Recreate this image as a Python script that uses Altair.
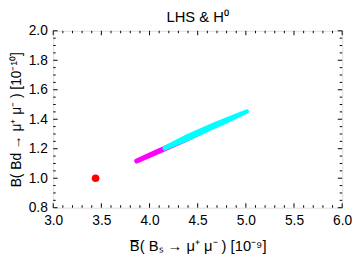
import altair as alt
import pandas as pd

# Data
red_x = [3.44]
red_y = [1.00]

magenta_x = [3.867, 4.082, 4.337, 4.541]
magenta_y = [1.117, 1.180, 1.253, 1.313]
magenta_w = [5.0, 5.5, 5.5, 5.0]

cyan_x = [4.160, 4.388, 4.694, 5.010]
cyan_y = [1.204, 1.273, 1.363, 1.453]
cyan_w = [5.0, 7.0, 6.5, 4.5]

x_major = [3.0, 3.5, 4.0, 4.5, 5.0, 5.5, 6.0]
y_major = [0.8, 1.0, 1.2, 1.4, 1.6, 1.8, 2.0]
x_minor = [round(3.0 + 0.1 * i, 2) for i in range(31) if i % 5 != 0]
y_minor = [round(0.8 + 0.05 * i, 3) for i in range(25) if i % 4 != 0]

TITLE = "LHS & H⁰"

W, H = 294, 180
FONT = "Liberation Sans"

xscale = alt.Scale(domain=[3.0, 6.0], nice=False, zero=False)
yscale = alt.Scale(domain=[0.8, 2.0], nice=False, zero=False)

xaxis = alt.Axis(values=x_major, format=".1f", ticks=False, domain=False, grid=False,
                 labelFont=FONT, labelFontSize=14, labelColor="black", labelPadding=6,
                 title="B̅( Bₛ → μ⁺ μ⁻ )  [10⁻⁹]", titleFont=FONT, titleFontSize=15,
                 titleFontWeight="normal", titleColor="black", titlePadding=12,
                 labelFlush=False, labelOverlap=False)
yaxis = alt.Axis(values=y_major, format=".1f", ticks=False, domain=False, grid=False,
                 labelFont=FONT, labelFontSize=14, labelColor="black", labelPadding=6,
                 title="B( Bd → μ⁺ μ⁻ )  [10⁻¹⁰]", titleFont=FONT, titleFontSize=14,
                 titleFontWeight="normal", titleColor="black", titlePadding=5,
                 labelFlush=False, labelOverlap=False)

X = alt.X("x:Q", scale=xscale, axis=xaxis)
Y = alt.Y("y:Q", scale=yscale, axis=yaxis)

mag = pd.DataFrame({"x": magenta_x, "y": magenta_y, "w": magenta_w, "o": range(4)})
cya = pd.DataFrame({"x": cyan_x, "y": cyan_y, "w": cyan_w, "o": range(4)})
red = pd.DataFrame({"x": red_x, "y": red_y})

mag_layer = alt.Chart(mag).mark_trail(color="#FF00FF").encode(
    x=X, y=Y, order="o:Q", size=alt.Size("w:Q", scale=None, legend=None))
cya_layer = alt.Chart(cya).mark_trail(color="#00FFFF").encode(
    x=X, y=Y, order="o:Q", size=alt.Size("w:Q", scale=None, legend=None))
red_layer = alt.Chart(red).mark_circle(color="#FF0000", opacity=1, size=60).encode(x=X, y=Y)

title_layer = alt.Chart(pd.DataFrame({"t": [TITLE]})).mark_text(
    font=FONT, fontSize=15, color="black", align="center", baseline="alphabetic"
).encode(x=alt.value(W / 2), y=alt.value(-9), text="t:N")

def xticks(vals, length):
    df = pd.DataFrame({"x": vals})
    bot = alt.Chart(df).mark_rule(color="black", strokeWidth=1).encode(
        x=X, y=alt.value(H), y2=alt.value(H - length))
    top = alt.Chart(df).mark_rule(color="black", strokeWidth=1).encode(
        x=X, y=alt.value(0), y2=alt.value(length))
    return [bot, top]

def yticks(vals, length):
    df = pd.DataFrame({"y": vals})
    left = alt.Chart(df).mark_rule(color="black", strokeWidth=1).encode(
        y=Y, x=alt.value(0), x2=alt.value(length))
    right = alt.Chart(df).mark_rule(color="black", strokeWidth=1).encode(
        y=Y, x=alt.value(W), x2=alt.value(W - length))
    return [left, right]

layers = (xticks(x_major, 4.5) + xticks(x_minor, 2.5) + yticks(y_major, 4.5) + yticks(y_minor, 2.5)
          + [mag_layer, cya_layer, red_layer, title_layer])

chart = alt.layer(*layers).properties(
    width=W, height=H,
    autosize=alt.AutoSizeParams(type="none"),
    padding={"left": 46, "top": 21, "right": 10, "bottom": 50},
).configure_view(stroke="black", strokeWidth=1).configure(background="white")

chart.save("out.html", embed_options={"renderer": "svg", "actions": False})
